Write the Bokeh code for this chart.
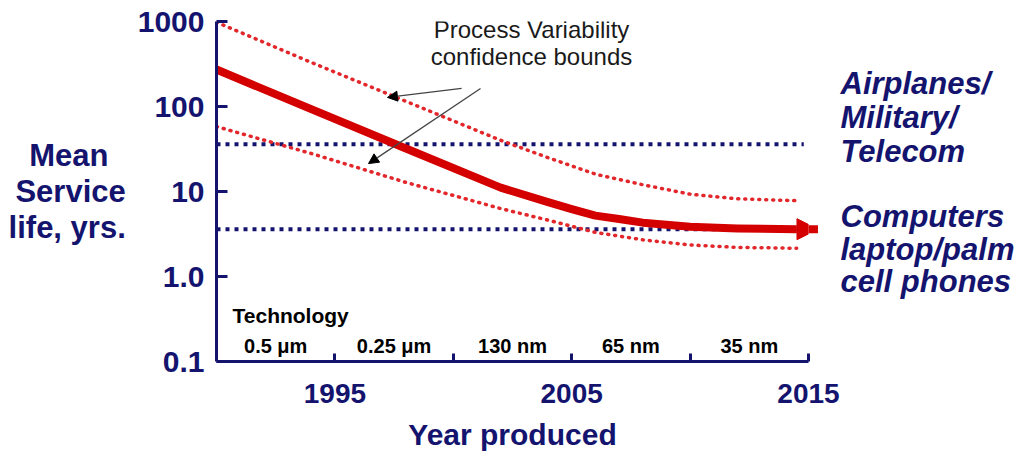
from bokeh.plotting import figure
from bokeh.models import (Range1d, FixedTicker, Label, Arrow, NormalHead, ColumnDataSource,
                          LinearAxis, LinearScale)
from bokeh.embed import file_html
from bokeh.resources import INLINE
from bokeh.core.properties import value

# ---------------- data ----------------
years_mean = [1990, 1994, 1998, 2002, 2004, 2005, 2006, 2007, 2008, 2010, 2012, 2014.5]
life_mean = [272, 93, 32, 11.1, 7.5, 6.2, 5.2, 4.75, 4.3, 3.85, 3.68, 3.6]
mean_arrow_end = 2015.4

years_bounds = [1990, 1994, 1998, 2002, 2004, 2006, 2008, 2010, 2012, 2014.5]
life_upper = [980, 330, 115, 40, 25, 16, 12, 9.3, 8.2, 7.8]
life_lower = [58, 28, 12.8, 6.3, 4.6, 3.3, 2.7, 2.35, 2.2, 2.15]

req_years = [1990, 2014.8]
req_levels = [36, 3.6]

tech_bounds = [1990, 1995, 2000, 2005, 2010, 2015]
tech_nodes = ["0.5 \u03bcm", "0.25 \u03bcm", "130 nm", "65 nm", "35 nm"]

year_ticks = [1995, 2000, 2005, 2010, 2015]
year_tick_labels = ["1995", "", "2005", "", "2015"]
life_ticks = [0.1, 1, 10, 100, 1000]
life_tick_labels = ["0.1", "1.0", "10", "100", "1000"]

app_lines = ["Airplanes/", "Military/", "Telecom", "Computers", "laptop/palm", "cell phones"]

ptr_x_start = [2000.35, 2001.15]
ptr_y_start = [163, 163]
ptr_x_end = [1997.22, 1996.42]
ptr_y_end = [128, 21.3]

# ---------------- styles ----------------
NAVY = "#14146f"
RED = "#d40000"
RED_DOT = "#e2262a"
FONT = "Liberation Sans"
NBSP = "\u00a0"

p = figure(width=1024, height=460,
           x_range=Range1d(1990, 2015), y_range=Range1d(0.1, 1000),
           y_axis_type="log", output_backend="svg", toolbar_location=None,
           min_border_left=216, min_border_right=216,
           min_border_top=21, min_border_bottom=99)
p.outline_line_color = None
p.grid.visible = False
p.background_fill_color = "white"
p.border_fill_color = "white"

for ax in p.axis:
    ax.axis_line_color = NAVY
    ax.axis_line_width = 3
    ax.major_tick_line_color = NAVY
    ax.major_tick_line_width = 3
    ax.major_tick_out = 0
    ax.minor_tick_line_color = None
    ax.major_label_text_color = NAVY
    ax.major_label_text_font = FONT
    ax.major_label_text_font_style = "bold"
    ax.axis_label_text_color = NAVY
    ax.axis_label_text_font = FONT
    ax.axis_label_text_font_style = "bold"

p.xaxis.ticker = FixedTicker(ticks=year_ticks)
p.xaxis.major_label_overrides = {t: l for t, l in zip(year_ticks, year_tick_labels)}
p.xaxis.major_tick_in = 8
p.xaxis.major_label_text_font_size = "28px"
p.xaxis.major_label_standoff = 22
p.xaxis.axis_label = "Year produced"
p.xaxis.axis_label_text_font_size = "30px"
p.xaxis.axis_label_standoff = 12

p.yaxis.ticker = FixedTicker(ticks=life_ticks)
p.yaxis.major_label_overrides = {t: l for t, l in zip(life_ticks, life_tick_labels)}
p.yaxis.major_tick_in = 11
p.yaxis.major_label_text_font_size = "30px"
p.yaxis.major_label_standoff = 12
p.yaxis.axis_label = "Mean" + NBSP * 2 + "\nService\nlife, yrs."
p.yaxis.axis_label_orientation = "horizontal"
p.yaxis.axis_label_text_font_size = "31px"
p.yaxis.axis_label_text_line_height = 1.03
p.yaxis.axis_label_standoff = 9

# right-hand application labels, placed on a pixel-like helper range
p.extra_y_ranges = {"px": Range1d(start=361, end=21)}
p.extra_y_scales = {"px": LinearScale()}
app_pos = [83, 117, 151, 216, 249, 281]
rax = LinearAxis(y_range_name="px", ticker=FixedTicker(ticks=app_pos),
                 major_label_overrides={t: l for t, l in zip(app_pos, app_lines)},
                 axis_line_color=None, major_tick_line_color=None, minor_tick_line_color=None,
                 major_label_standoff=26, major_label_text_color=NAVY,
                 major_label_text_font=FONT, major_label_text_font_style="bold italic",
                 major_label_text_font_size="31px")
p.add_layout(rax, "right")

# requirement levels (blue dotted)
for lvl in req_levels:
    p.line(req_years, [lvl, lvl], line_color=NAVY, line_width=4, line_dash="4 5")

# confidence bounds (red dotted)
for bound in (life_upper, life_lower):
    p.line(years_bounds, bound, line_color=RED_DOT, line_width=3.5,
           line_dash="1 6", line_cap="round")

# mean line
p.line(years_mean, life_mean, line_color=RED, line_width=8, line_join="round")
p.add_layout(Arrow(end=NormalHead(size=21, fill_color=RED, line_color=RED),
                   x_start=years_mean[-1], y_start=life_mean[-1],
                   x_end=mean_arrow_end, y_end=life_mean[-1],
                   line_color=RED, line_width=8))

# pointer arrows
for xs, ys, xe, ye in zip(ptr_x_start, ptr_y_start, ptr_x_end, ptr_y_end):
    p.add_layout(Arrow(end=NormalHead(size=10, fill_color="black", line_color="black"),
                       x_start=xs, y_start=ys, x_end=xe, y_end=ye,
                       line_color="#444444", line_width=1.3))

# technology nodes
tech_mid = [(a + b) / 2 for a, b in zip(tech_bounds[:-1], tech_bounds[1:])]
src = ColumnDataSource(dict(x=tech_mid, y=[life_ticks[0]] * len(tech_mid), t=tech_nodes))
p.text(x="x", y="y", text="t", source=src, text_align="center",
       text_baseline="middle", y_offset=-16, text_color="black",
       text_font=value(FONT), text_font_style="bold", text_font_size="20px")


def lab(text, x, y, size, color=NAVY, style="bold", align="left"):
    p.add_layout(Label(x=x, y=y, x_units="screen", y_units="screen", text=text,
                       text_font=FONT, text_font_size=size, text_font_style=style,
                       text_color=color, text_align=align, text_baseline="middle"))


lab("Technology", 16, 46, "21px", color="black")
lab("Process Variability", 315, 332, "24px", color="#1a1a1a", style="normal", align="center")
lab("confidence bounds", 315, 305, "24px", color="#1a1a1a", style="normal", align="center")

open("out.html", "w").write(file_html(p, INLINE))
